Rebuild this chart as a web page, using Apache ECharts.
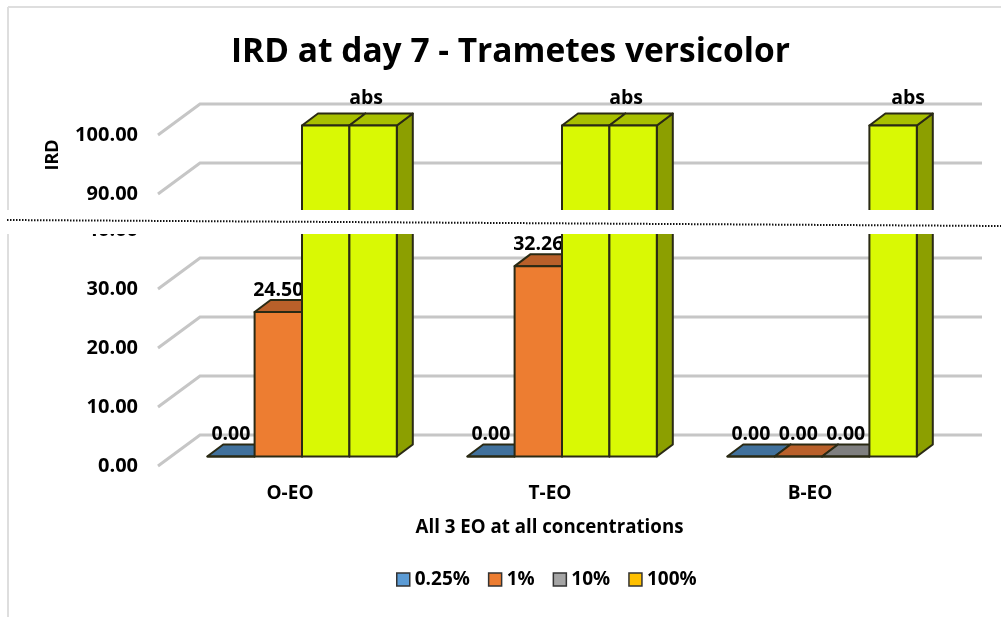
<!DOCTYPE html>
<html><head><meta charset="utf-8">
<style>html,body{margin:0;padding:0;background:#fff}#c{width:1001px;height:617px}</style>
<script src="https://cdn.jsdelivr.net/npm/echarts@6/dist/echarts.min.js"></script>
</head><body><div id="c"></div>
<script>
const categories = ['O-EO','T-EO','B-EO'];
const seriesNames = ['0.25%','1%','10%','100%'];
const values025 = [0, 0, 0];
const values1 = [24.50, 32.26, 0];
const values10 = [100, 100, 0];
const values100 = [100, 100, 100];
const gridValues = [0, 10, 20, 30, 90, 100];
const labels025 = ['0.00','0.00','0.00'];
const labels1 = ['24.50','32.26','0.00'];
const labels10 = ['','','0.00'];
const labels100 = ['abs','abs','abs'];

const FONT = '"Open Sans"';
const legendColors = ['#5b9bd5','#ed7d31','#a5a5a5','#ffc000'];
const frontColors = ['#41719c','#ed7d31','#7f7f7f','#d9f904'];
const topColors = ['#41719c','#b9602a','#7f7f7f','#a8c000'];
const sideColors = ['#2f5597','#a0521f','#666666','#8c9f00'];
const LIME = ['#d9f904','#a8c000','#8c9f00'];
const edge = '#2a2a14';
const wallDx = 42, wallDy = -31, barDx = 14, barDy = -9.5, depthDx = 16, depthDy = -12;
const absNudge = [-7, -7, 15];

function barSeries(name, idx, vals, labels) {
  return {
    name, type: 'custom', coordinateSystem: 'cartesian2d', z: 3 + idx,
    itemStyle: { color: legendColors[idx] },
    data: vals.map((v, i) => [i, v]),
    encode: { x: 0, y: 1 },
    renderItem(params, api) {
      const cat = api.value(0), val = api.value(1);
      const txt = labels[cat];
      const band = api.size([1, 0])[0];
      const w = band * 0.1823;
      const c0 = api.coord([cat, 0]), c1 = api.coord([cat, val]);
      const x0 = c0[0] + barDx + (idx - 2) * w, x1 = x0 + w;
      const yb = c0[1] + barDy, yt = c1[1] + barDy;
      const full = val >= 100;
      const f = full ? LIME[0] : frontColors[idx];
      const t = full ? LIME[1] : topColors[idx];
      const s = full ? LIME[2] : sideColors[idx];
      const ln = { stroke: edge, lineWidth: 2, lineJoin: 'round' };
      const kids = [];
      kids.push({ type: 'polygon', shape: { points: [[x1, yt], [x1 + depthDx, yt + depthDy], [x1 + depthDx, yb + depthDy], [x1, yb]] }, style: Object.assign({ fill: s }, ln) });
      kids.push({ type: 'polygon', shape: { points: [[x0, yt], [x0 + depthDx, yt + depthDy], [x1 + depthDx, yt + depthDy], [x1, yt]] }, style: Object.assign({ fill: t }, ln) });
      if (yb - yt > 0.5) {
        kids.push({ type: 'rect', shape: { x: x0, y: yt, width: w, height: yb - yt }, style: Object.assign({ fill: f }, ln) });
      } else {
        kids.push({ type: 'line', shape: { x1: x0, y1: yb, x2: x1, y2: yb }, style: ln });
      }
      if (txt) {
        const isAbs = txt === 'abs';
        kids.push({ type: 'text', z2: 5, style: {
          text: txt, x: (x0 + x1) / 2 + (isAbs ? absNudge[cat] : 0), y: yt - (isAbs ? 27 : 22),
          fill: '#000', font: 'bold 19.5px ' + FONT, textAlign: 'center', textVerticalAlign: 'middle' } });
      }
      return { type: 'group', children: kids };
    }
  };
}

const gridSeries = {
  type: 'custom', coordinateSystem: 'cartesian2d', z: 1, silent: true,
  data: gridValues.map(v => [0, v]), encode: { x: 0, y: 1 },
  renderItem(params, api) {
    const v = api.value(1);
    const band = api.size([1, 0])[0];
    const p = api.coord([0, v]);
    const xl = p[0] - band / 2, y = p[1];
    return { type: 'polyline', shape: { points: [[xl, y], [xl + wallDx, y + wallDy], [xl + band * 3 + wallDx + 2, y + wallDy]] },
      style: { stroke: '#c6c6c6', lineWidth: 3, fill: 'none' } };
  }
};

const chart = echarts.init(document.getElementById('c'), null, { renderer: 'canvas' });
chart.setOption({
  animation: false,
  backgroundColor: '#fff',
  title: { text: 'IRD at day 7 - Trametes versicolor', left: 231, top: 35, padding: 0,
    textStyle: { fontFamily: FONT, fontWeight: 'bold', fontSize: 33.5, color: '#000' } },
  legend: { left: 396, top: 570, padding: 0, itemWidth: 13, itemHeight: 13, itemGap: 18, icon: 'rect', selectedMode: false,
    data: seriesNames,
    itemStyle: { borderColor: '#333', borderWidth: 1.5 },
    textStyle: { fontFamily: FONT, fontWeight: 'bold', fontSize: 19, color: '#000' } },
  grid: { left: 158, top: 135, width: 780, height: 331 },
  xAxis: { type: 'category', data: categories, boundaryGap: true,
    axisLine: { show: false }, axisTick: { show: false }, splitLine: { show: false },
    axisLabel: { margin: 18, padding: [0, 0, 0, 4], fontFamily: FONT, fontWeight: 'bold', fontSize: 19, color: '#000' },
    name: 'All 3 EO at all concentrations', nameLocation: 'middle', nameGap: 52,
    nameTextStyle: { fontFamily: FONT, fontWeight: 'bold', fontSize: 18.7, color: '#000', padding: [0, 0, 0, 3] } },
  yAxis: { type: 'value', min: 0, max: 100, interval: 10,
    breaks: [{ start: 40, end: 90, gap: 6.1 }],
    breakArea: { show: false },
    breakLabelLayout: { moveOverlap: false },
    axisLine: { show: false }, axisTick: { show: false }, splitLine: { show: false },
    axisLabel: { margin: 20, fontFamily: FONT, fontWeight: 'bold', fontSize: 20, color: '#000',
      formatter: v => Number(v).toFixed(2) } },
  series: [gridSeries,
    barSeries(seriesNames[0], 0, values025, labels025),
    barSeries(seriesNames[1], 1, values1, labels1),
    barSeries(seriesNames[2], 2, values10, labels10),
    barSeries(seriesNames[3], 3, values100, labels100)],
  graphic: { elements: [
    { type: 'line', z: 90, silent: true, shape: { x1: 8, y1: 7, x2: 1001, y2: 7 }, style: { stroke: '#dedede', lineWidth: 2 } },
    { type: 'line', z: 90, silent: true, shape: { x1: 8, y1: 7, x2: 8, y2: 617 }, style: { stroke: '#dedede', lineWidth: 2 } },
    { type: 'rect', z: 100, silent: true, shape: { x: 0, y: 210, width: 1001, height: 24 }, style: { fill: '#fff' } },
    { type: 'line', z: 101, silent: true, shape: { x1: 7, y1: 220, x2: 1001, y2: 226 }, style: { stroke: '#111', lineWidth: 2, lineDash: [1.5, 1.5] } },
    { type: 'text', z: 101, silent: true, x: 53, y: 155, rotation: Math.PI / 2, style: { text: 'IRD', fill: '#000', font: 'bold 18px ' + FONT, textAlign: 'center', textVerticalAlign: 'middle' } }
  ] }
});
</script></body></html>
